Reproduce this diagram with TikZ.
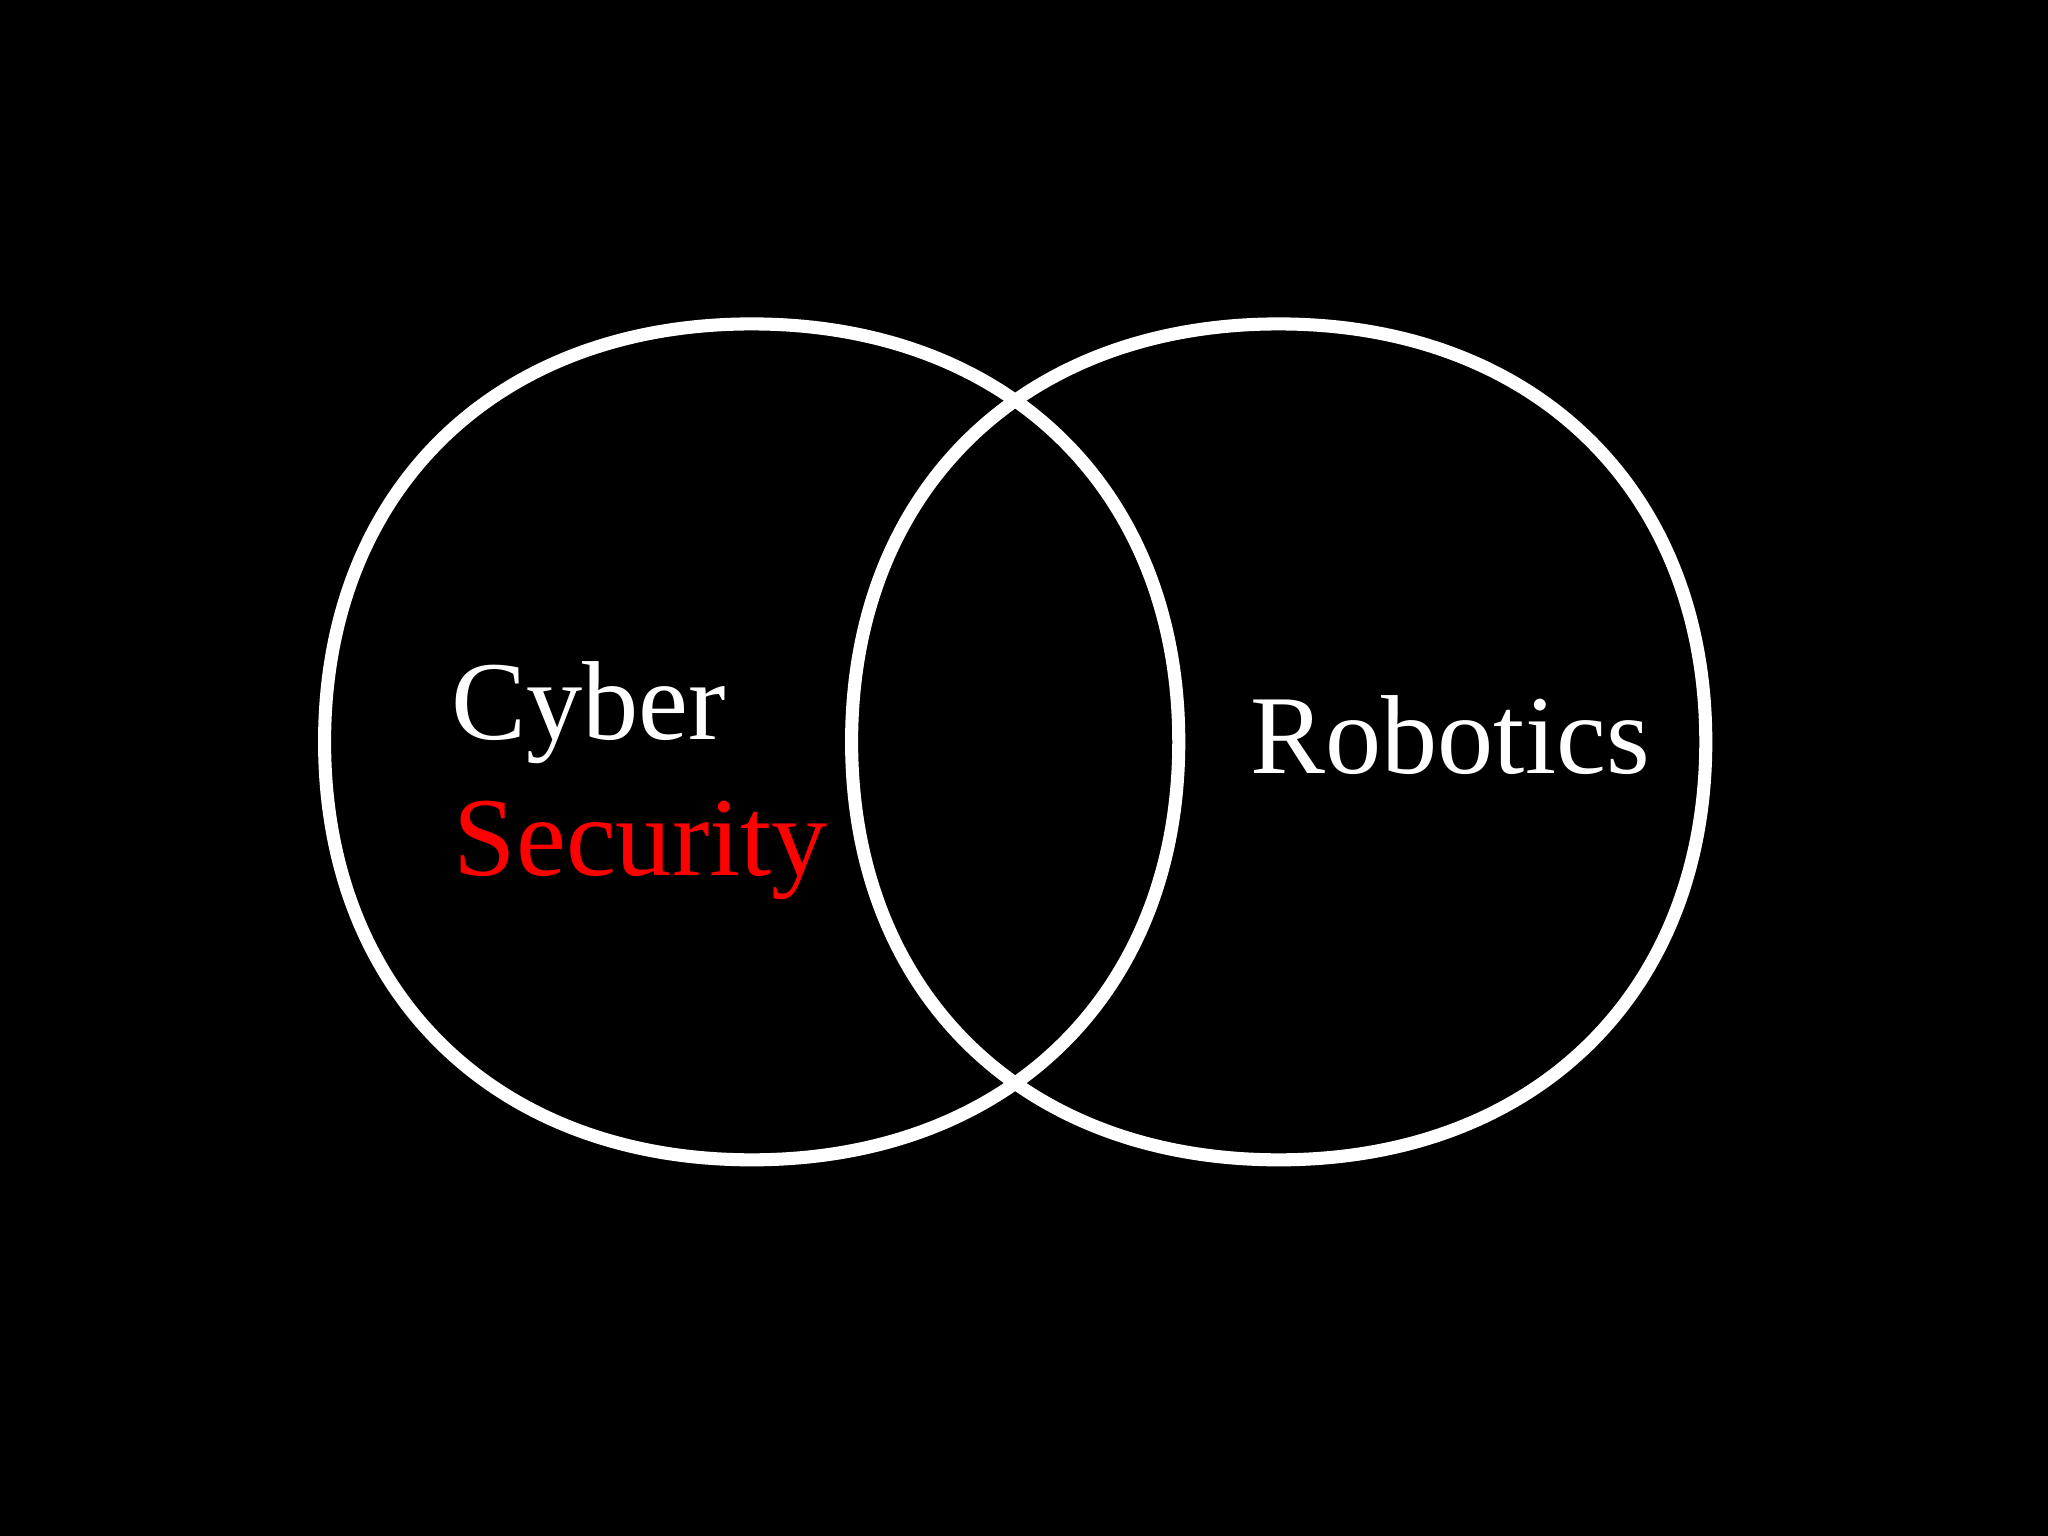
\documentclass[tikz,border=0pt]{standalone}
\usepackage{fontspec}
\setmainfont{Liberation Serif}
\begin{document}
\begin{tikzpicture}[x=0.5pt,y=-0.5pt,
  ring/.style={draw=white,line width=5pt},
  lbl/.style={anchor=base west,inner sep=0pt,font=\fontsize{43}{48}\selectfont}]
\fill[black] (0,0) rectangle (1568,1176);
\useasboundingbox (0,0) rectangle (1568,1176);
\foreach \cx in {575.5,979}{
\draw[ring] (\cx+327,568) .. controls (\cx+327,568-0.6*320) and (\cx+0.6*327,248) .. (\cx,248)
  .. controls (\cx-0.6*327,248) and (\cx-327,568-0.6*320) .. (\cx-327,568)
  .. controls (\cx-327,568+0.6*320) and (\cx-0.6*327,888) .. (\cx,888)
  .. controls (\cx+0.6*327,888) and (\cx+327,568+0.6*320) .. cycle;
}
\node[lbl,text=white] (cyber) at (345,566) {Cyber};
\node[lbl,text=red] (sec) at (347,670) {Security};
\node[lbl,text=white] (rob) at (957,592) {Robotics};
\end{tikzpicture}
\end{document}
